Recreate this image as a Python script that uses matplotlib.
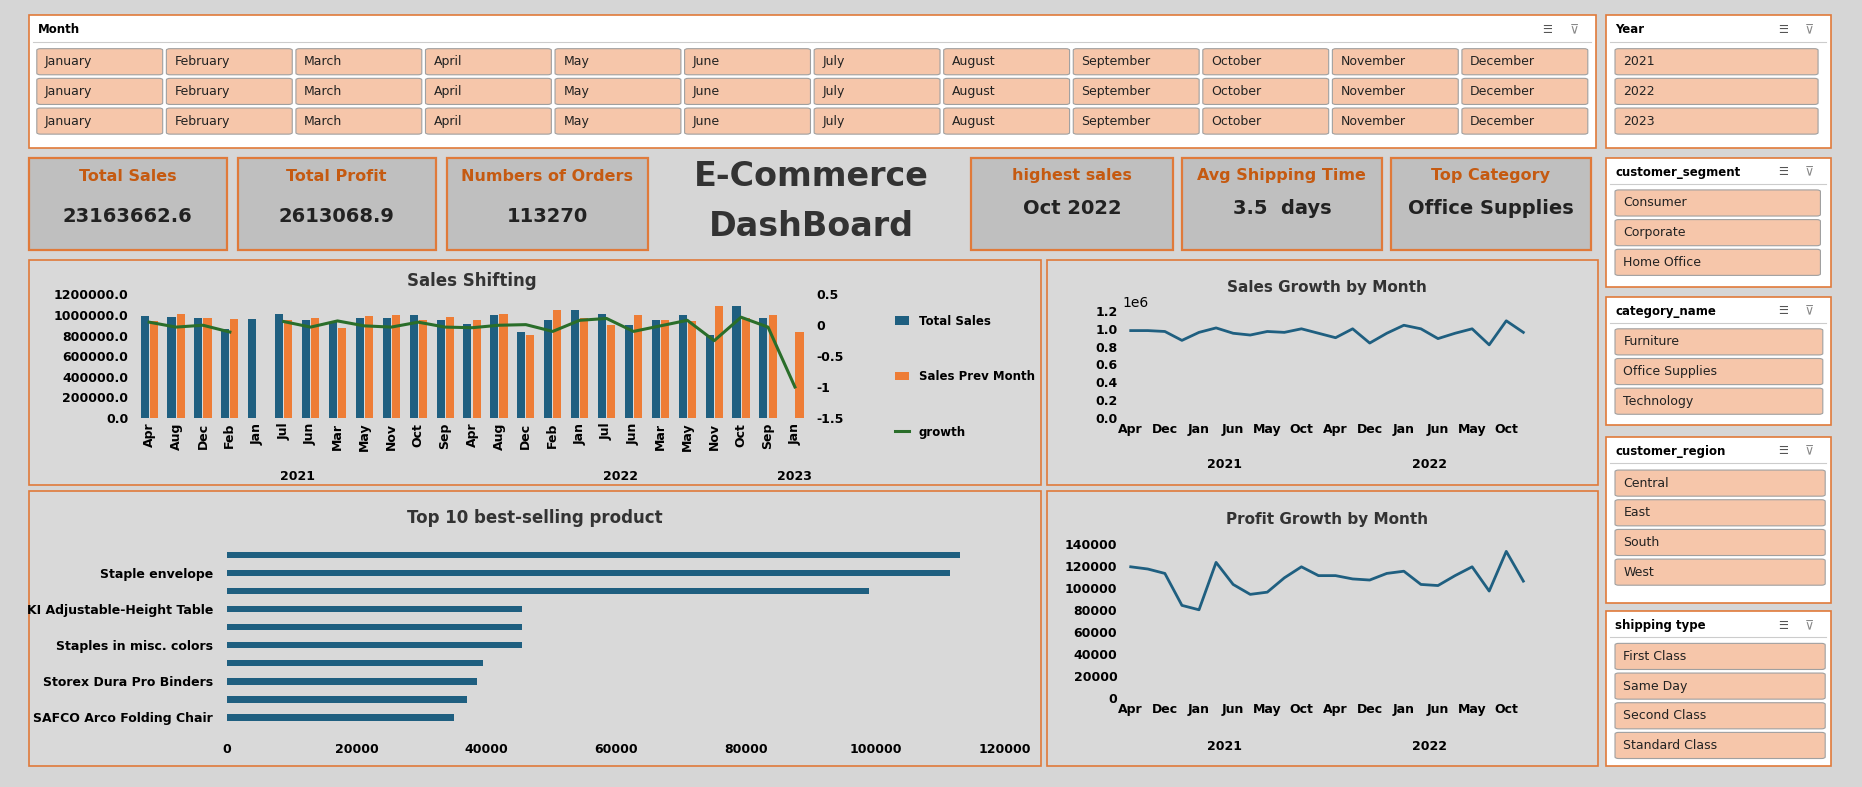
import numpy as np
import matplotlib
matplotlib.use('Agg')
import matplotlib.pyplot as plt
from matplotlib.patches import Rectangle, FancyBboxPatch
from matplotlib.lines import Line2D

# ---------------- data ----------------
months = ['January', 'February', 'March', 'April', 'May', 'June', 'July',
          'August', 'September', 'October', 'November', 'December']
years = ['2021', '2022', '2023']
segments = ['Consumer', 'Corporate', 'Home Office']
categories = ['Furniture', 'Office Supplies', 'Technology']
regions = ['Central', 'East', 'South', 'West']
ship_types = ['First Class', 'Same Day', 'Second Class', 'Standard Class']

kpi_titles = ['Total Sales', 'Total Profit', 'Numbers of Orders']
kpi_values = ['23163662.6', '2613068.9', '113270']
kpi2_titles = ['highest sales', 'Avg Shipping Time', 'Top Category']
kpi2_values = ['Oct 2022', '3.5  days', 'Office Supplies']

shift_months = ['Apr', 'Aug', 'Dec', 'Feb', 'Jan', 'Jul', 'Jun', 'Mar', 'May', 'Nov', 'Oct', 'Sep',
                'Apr', 'Aug', 'Dec', 'Feb', 'Jan', 'Jul', 'Jun', 'Mar', 'May', 'Nov', 'Oct', 'Sep',
                'Jan']
shift_years = ['2021'] * 12 + ['2022'] * 12 + ['2023']
total_sales = [990000, 980000, 970000, 860000, 960000, 1010000, 950000, 930000, 970000, 970000, 1000000, 950000,
               910000, 1000000, 830000, 950000, 1050000, 1010000, 900000, 950000, 1000000, 810000, 1090000, 970000,
               np.nan]
sales_prev = [940000, 1010000, 970000, 960000, np.nan, 950000, 970000, 870000, 990000, 1000000, 950000, 980000,
              950000, 1010000, 810000, 1050000, 970000, 900000, 1000000, 950000, 940000, 1090000, 970000, 1000000,
              830000]
growth = [0.05, -0.03, 0.0, -0.11, np.nan, 0.06, -0.03, 0.07, -0.01, -0.03, 0.05, -0.03,
          -0.04, 0.0, 0.01, -0.10, 0.08, 0.11, -0.10, -0.01, 0.08, -0.25, 0.13, -0.03,
          -1.0]

line_months = shift_months[:24]
sales_line = [980000, 980000, 970000, 870000, 960000, 1010000, 950000, 930000, 970000, 960000, 1000000, 950000,
              900000, 1000000, 840000, 950000, 1040000, 1000000, 890000, 950000, 1000000, 820000, 1090000, 960000]
profit_line = [119000, 117000, 113000, 84000, 80000, 123000, 103000, 94000, 96000, 109000, 119000, 111000,
               111000, 108000, 107000, 113000, 115000, 103000, 102000, 111000, 119000, 97000, 133000, 106000]

top_products = ['', 'Staple envelope', '', 'KI Adjustable-Height Table', '', 'Staples in misc. colors',
                '', 'Storex Dura Pro Binders', '', 'SAFCO Arco Folding Chair']
top_values = [113000, 111500, 99000, 45500, 45500, 45500, 39500, 38500, 37000, 35000]

# ---------------- layout helpers (reference coords 1568x663) ----------------
W, H = 1568.0, 663.0
BG = '#d9d9d9'
ORANGE = '#e07a3a'
BTN = '#f6c6aa'
BLUE = '#1f5f80'
ORG_BAR = '#ee7d36'
GREEN = '#2a6e2a'

fig = plt.figure(figsize=(18.62, 7.87), dpi=100)
fig.patch.set_facecolor('#d6d6d6')


def fr(x0, y0, x1, y1):
    return [x0 / W, 1 - y1 / H, (x1 - x0) / W, (y1 - y0) / H]


def box(x0, y0, x1, y1, fc, ec=ORANGE, lw=1.2):
    r = fr(x0, y0, x1, y1)
    fig.add_artist(Rectangle((r[0], r[1]), r[2], r[3], transform=fig.transFigure,
                             facecolor=fc, edgecolor=ec, linewidth=lw, zorder=-10))


def ftext(x, y, s, **kw):
    fig.text(x / W, 1 - y / H, s, **kw)


def button(x0, y0, x1, y1, label):
    r = fr(x0, y0, x1, y1)
    fig.add_artist(FancyBboxPatch((r[0], r[1]), r[2], r[3], boxstyle='round,pad=0,rounding_size=0.002',
                                  transform=fig.transFigure, facecolor=BTN, edgecolor='#a0a0a0',
                                  linewidth=0.8, zorder=-5))
    ftext(x0 + 7, (y0 + y1) / 2, label, fontsize=9, va='center', ha='left', color='#222222')


def slicer(x0, y0, x1, y1, title, items, first_y, bx0, bx1):
    box(x0, y0, x1, y1, 'white')
    ftext(x0 + 8, y0 + 12, title, fontsize=8.5, fontweight='bold', va='center')
    ftext(x1 - 45, y0 + 12, '☰', fontsize=8, va='center', color='#555555')
    ftext(x1 - 22, y0 + 12, '⊽', fontsize=9, va='center', color='#888888')
    fig.add_artist(Line2D([(x0 + 4) / W, (x1 - 4) / W], [1 - (y0 + 22) / H] * 2,
                          transform=fig.transFigure, color='#cccccc', lw=0.8, zorder=-4))
    for i, it in enumerate(items):
        button(bx0, first_y + 25 * i, bx1, first_y + 25 * i + 22, it)


# ---------------- slicers ----------------
box(24, 13, 1344, 125, 'white')
ftext(32, 25, 'Month', fontsize=8.5, fontweight='bold', va='center')
ftext(1299, 25, '☰', fontsize=8, va='center', color='#555555')
ftext(1322, 25, '⊽', fontsize=9, va='center', color='#888888')
fig.add_artist(Line2D([28 / W, 1340 / W], [1 - 35 / H] * 2, transform=fig.transFigure,
                      color='#cccccc', lw=0.8, zorder=-4))
for row in range(3):
    for j, m in enumerate(months):
        x0 = 31 + j * 109.1
        button(x0, 41 + row * 25, x0 + 106, 63 + row * 25, m)

slicer(1352, 13, 1542, 125, 'Year', years, 41, 1360, 1531)
slicer(1352, 133, 1542, 242, 'customer_segment', segments, 160, 1360, 1533)
slicer(1352, 250, 1542, 358, 'category_name', categories, 277, 1360, 1535)
slicer(1352, 368, 1542, 508, 'customer_region', regions, 396, 1360, 1537)
slicer(1352, 515, 1542, 645, 'shipping type', ship_types, 542, 1360, 1537)

# ---------------- KPI cards ----------------
kpi_x = [(24, 191), (200, 367), (376, 546)]
for (x0, x1), t, v in zip(kpi_x, kpi_titles, kpi_values):
    box(x0, 133, x1, 211, '#bfbfbf', lw=1.6)
    ftext((x0 + x1) / 2, 149, t, fontsize=11.5, fontweight='bold', color='#c55a11', ha='center', va='center')
    ftext((x0 + x1) / 2, 182, v, fontsize=14, fontweight='bold', color='#222222', ha='center', va='center')

kpi2_x = [(818, 988), (995, 1164), (1171, 1340)]
for (x0, x1), t, v in zip(kpi2_x, kpi2_titles, kpi2_values):
    box(x0, 133, x1, 211, '#bfbfbf', lw=1.6)
    ftext((x0 + x1) / 2, 148, t, fontsize=11.5, fontweight='bold', color='#c55a11', ha='center', va='center')
    ftext((x0 + x1) / 2, 176, v, fontsize=14, fontweight='bold', color='#222222', ha='center', va='center')

ftext(683, 149, 'E-Commerce', fontsize=24, fontweight='bold', color='#333333', ha='center', va='center')
ftext(683, 191, 'DashBoard', fontsize=24, fontweight='bold', color='#333333', ha='center', va='center')

# ---------------- chart panels ----------------
box(24, 219, 877, 409, BG)
box(24, 414, 877, 645, BG)
box(882, 219, 1346, 409, BG)
box(882, 414, 1346, 645, BG)


def style(ax):
    ax.set_facecolor('none')
    for s in ax.spines.values():
        s.set_visible(False)
    ax.tick_params(length=0, labelsize=9)
    for lab in ax.get_xticklabels() + ax.get_yticklabels():
        lab.set_fontweight('bold')


def year_labels(ax, ylist, n, ypos):
    idx = np.arange(n)
    for yr in dict.fromkeys(ylist):
        pos = idx[[y == yr for y in ylist]]
        ax.text(pos.mean(), ypos, yr, transform=ax.get_xaxis_transform(), ha='center', va='top',
                fontsize=9, fontweight='bold')


# Sales Shifting
ax = fig.add_axes(fr(112, 248, 683, 352))
x = np.arange(len(shift_months))
ax.bar(x - 0.17, total_sales, 0.3, color=BLUE, label='Total Sales')
ax.bar(x + 0.17, sales_prev, 0.3, color=ORG_BAR, label='Sales Prev Month')
ax.set_ylim(0, 1200000)
ax.set_yticks(np.arange(0, 1200001, 200000))
ax.set_yticklabels(['%.1f' % v for v in np.arange(0, 1200001, 200000)])
ax.set_xlim(-0.6, len(x) - 0.4)
ax.set_xticks(x)
ax.set_xticklabels(shift_months, rotation=90)
ax2 = ax.twinx()
ax2.plot(x, growth, color=GREEN, lw=2.2, label='growth')
ax2.set_ylim(-1.5, 0.5)
ax2.set_yticks([0.5, 0, -0.5, -1, -1.5])
ax2.set_yticklabels(['0.5', '0', '-0.5', '-1', '-1.5'])
style(ax)
style(ax2)
year_labels(ax, shift_years, len(shift_years), -0.42)
ax.set_title('Sales Shifting', fontsize=12, fontweight='bold', color='#333333', pad=6)
h1, l1 = ax.get_legend_handles_labels()
h2, l2 = ax2.get_legend_handles_labels()
leg = fig.legend(h1 + h2, l1 + l2, loc='upper left', bbox_to_anchor=(745 / W, 1 - 256 / H),
                 frameon=False, labelspacing=3.6, handlelength=1.2, prop={'size': 8.5, 'weight': 'bold'})

# Sales Growth by Month
axs = fig.add_axes(fr(945, 262, 1290, 352))
xl = np.arange(len(line_months))
axs.plot(xl, sales_line, color=BLUE, lw=2)
axs.set_ylim(0, 1200000)
axs.set_yticks(np.arange(0, 1200001, 200000))
axs.set_xlim(-0.5, 23.5)
axs.set_xticks(xl[::2])
axs.set_xticklabels(line_months[::2])
style(axs)
year_labels(axs, shift_years[:24], 24, -0.38)
axs.set_title('Sales Growth by Month', fontsize=11, fontweight='bold', color='#333333', pad=14)

# Profit Growth by Month
axp = fig.add_axes(fr(945, 458, 1290, 588))
axp.plot(xl, profit_line, color=BLUE, lw=2)
axp.set_ylim(0, 140000)
axp.set_yticks(np.arange(0, 140001, 20000))
axp.set_xlim(-0.5, 23.5)
axp.set_xticks(xl[::2])
axp.set_xticklabels(line_months[::2])
style(axp)
year_labels(axp, shift_years[:24], 24, -0.27)
axp.set_title('Profit Growth by Month', fontsize=11, fontweight='bold', color='#333333', pad=14)

# Top 10 best-selling product
axt = fig.add_axes(fr(191, 460, 852, 612))
yp = np.arange(len(top_values))
axt.barh(yp, top_values, 0.35, color=BLUE)
axt.set_ylim(len(top_values) - 0.5, -0.5)
axt.set_yticks(yp)
axt.set_yticklabels(top_products)
axt.set_xlim(0, 121000)
axt.set_xticks(np.arange(0, 120001, 20000))
style(axt)
axt.tick_params(axis='x', pad=12)
axt.tick_params(axis='y', pad=10)
ftext(450, 436, 'Top 10 best-selling product', fontsize=12, fontweight='bold', color='#333333',
      ha='center', va='center')

fig.savefig('out.png', dpi=100, facecolor=fig.get_facecolor())
